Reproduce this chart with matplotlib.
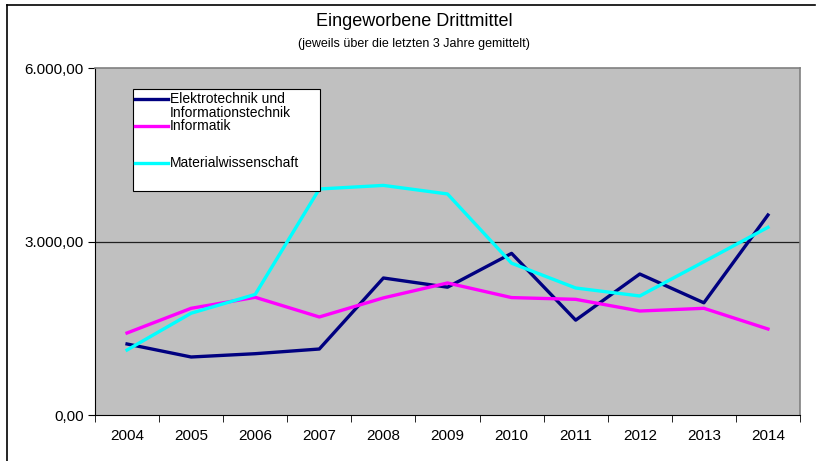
import matplotlib.pyplot as plt
from matplotlib.lines import Line2D
from matplotlib.patches import Rectangle

plt.rcParams['font.family'] = ['Liberation Sans', 'DejaVu Sans']

years = ['2004', '2005', '2006', '2007', '2008', '2009', '2010',
         '2011', '2012', '2013', '2014']
etit = [1228, 1003, 1060, 1141, 2369, 2210, 2795, 1640, 2438, 1940, 3458]
informatik = [1418, 1845, 2035, 1695, 2025, 2283, 2030, 2000, 1798, 1845, 1487]
material = [1124, 1760, 2085, 3908, 3970, 3822, 2625, 2196, 2058, 2650, 3245]

series = [
    ('Elektrotechnik und\nInformationstechnik', etit, '#000080'),
    ('Informatik', informatik, '#FF00FF'),
    ('Materialwissenschaft', material, '#00FFFF'),
]

fig = plt.figure(figsize=(8.28, 4.61), dpi=100)
ax = fig.add_axes([95 / 828, 1 - 415 / 461, 705 / 828, 347 / 461])
ax.set_facecolor('#C0C0C0')

x = list(range(len(years)))
ax.axhline(3000, color='#202020', linewidth=0.9, zorder=1)
for name, vals, col in series:
    ax.plot(x, vals, color=col, linewidth=2.4, zorder=3)

ax.set_xlim(-0.5, len(years) - 0.5)
ax.set_ylim(0, 6000)
ax.set_yticks([0, 3000, 6000])
ax.set_yticklabels(['0,00', '3.000,00', '6.000,00'], fontsize=11)
ax.set_xticks(x)
ax.set_xticklabels(years, fontsize=11)
ax.set_xticks([i - 0.5 for i in range(len(years) + 1)], minor=True)
ax.tick_params(axis='x', which='major', length=0, pad=10)
ax.tick_params(axis='x', which='minor', length=5, direction='out', color='black')
ax.tick_params(axis='y', length=5, direction='out', pad=3, color='black')

for side in ['top', 'right']:
    ax.spines[side].set_color('#808080')
    ax.spines[side].set_linewidth(1.2)
ax.spines['left'].set_color('black')
ax.spines['bottom'].set_color('black')

# legend box drawn like the Excel one
lx0, ly0, lx1, ly1 = 133, 89, 320, 191
ax.add_patch(Rectangle(((lx0 - 95) / 705, (415 - ly1) / 347), (lx1 - lx0) / 705,
                       (ly1 - ly0) / 347, transform=ax.transAxes,
                       facecolor='white', edgecolor='black', linewidth=0.8, zorder=5))
entry_y = [99, 126, 163]
for (name, vals, col), ey in zip(series, entry_y):
    fy = 1 - ey / 461
    fig.add_artist(Line2D([135 / 828, 168 / 828], [fy, fy], color=col, linewidth=2.4, zorder=6))
    fig.text(170 / 828, 1 - (ey - 7) / 461, name, fontsize=10, va='top', ha='left',
             linespacing=1.0, zorder=6)

fig.text(0.5, 1 - 22 / 461, 'Eingeworbene Drittmittel', fontsize=13, ha='center', va='center')
fig.text(0.5, 1 - 44 / 461, '(jeweils über die letzten 3 Jahre gemittelt)', fontsize=9,
         ha='center', va='center')

# outer chart frame
fig.add_artist(Line2D([7 / 828, 7 / 828], [0, 1 - 5 / 461], color='black', linewidth=1.2))
fig.add_artist(Line2D([7 / 828, 815 / 828], [1 - 5 / 461, 1 - 5 / 461], color='black', linewidth=1.2))

fig.savefig('out.png', dpi=100)
